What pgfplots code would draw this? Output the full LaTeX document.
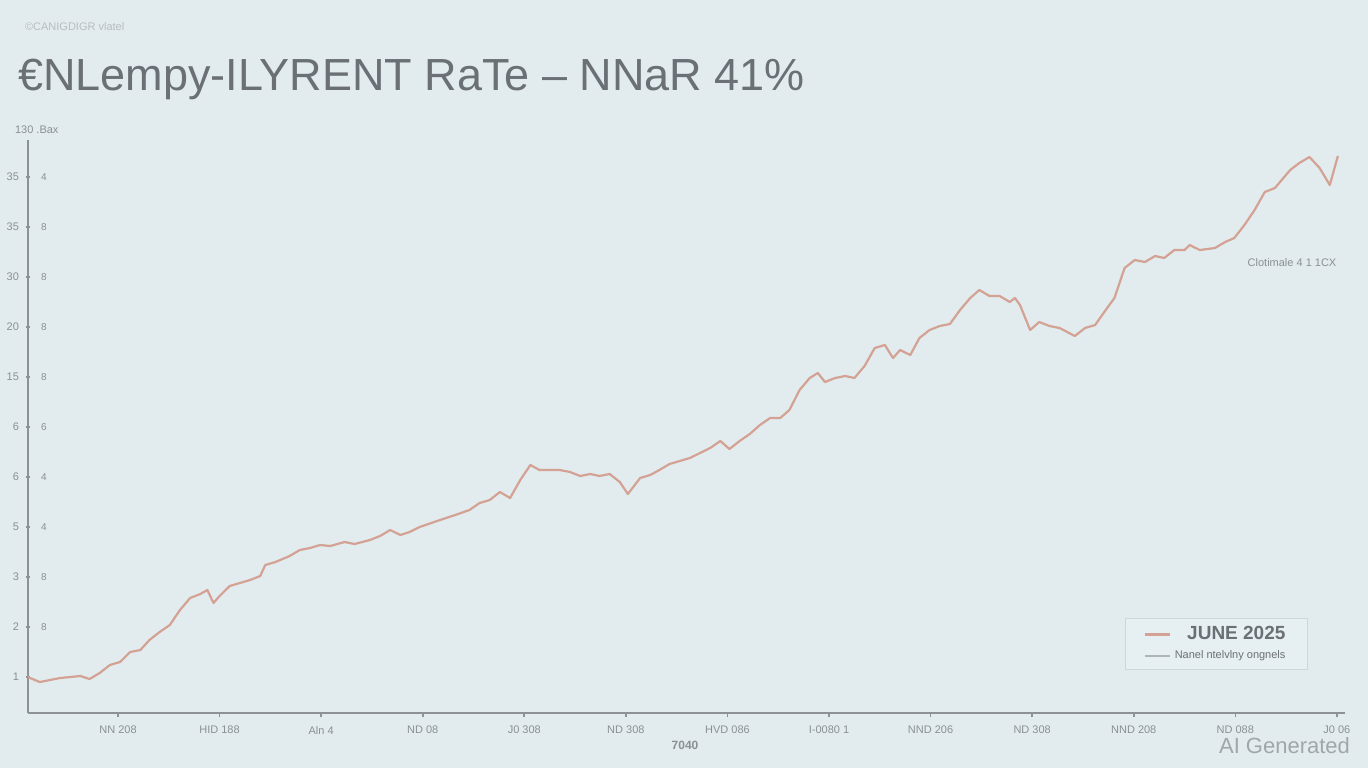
\documentclass[border=0pt]{standalone}
\usepackage{fontspec}
\setmainfont{Liberation Sans}
\usepackage{pgfplots}
\pgfplotsset{compat=1.18}

\definecolor{bg}{HTML}{E2ECEE}
\definecolor{axisgray}{HTML}{8C9297}
\definecolor{tickgray}{HTML}{8A9095}
\definecolor{titlegray}{HTML}{6A7075}
\definecolor{linecol}{HTML}{D4A294}
\definecolor{legbg}{HTML}{E6EFF1}
\definecolor{legborder}{HTML}{CDD6D9}

% 1 px of the reference = 0.5pt; plot box from px (28,140) to (1345,713)
\begin{document}
\begin{tikzpicture}[x=1pt,y=1pt]
\fill[bg] (-14,-27.5) rectangle (670,356.5);
\useasboundingbox (-14,-27.5) rectangle (670,356.5);

\begin{axis}[
    at={(0,0)}, anchor=south west,
    scale only axis,
    width=658.5pt, height=286.5pt,
    xmin=-0.886, xmax=12.08,
    ymin=0.28, ymax=11.74,
    axis x line*=bottom, axis y line*=left,
    axis line style={axisgray, line width=1pt},
    xtick={0,...,12},
    xticklabels={NN 208, HID 188, Aln 4, ND 08, J0 308, ND 308, HVD 086,
                 I-0080 1, NND 206, ND 308, NND 208, ND 088, J0 06},
    ytick={1,...,11},
    yticklabels={1,2,3,5,6,6,15,20,30,35,35},
    tick style={axisgray, line width=0.8pt},
    major tick length=2pt,
    xtick align=outside,
    ytick align=center,
    tick label style={font=\fontsize{5.5}{6}\selectfont, text=tickgray},
    xticklabel style={yshift=-1pt},
    legend style={at={(0.833,0.166)}, anchor=north west,
        fill=legbg, draw=legborder, line width=0.5pt,
        inner xsep=9pt, inner ysep=2pt, row sep=0pt,
        text=titlegray},
    legend cell align=right,
    legend image code/.code={\draw[#1] (0pt,0pt) -- (12.5pt,0pt);},
]
\addplot[linecol, line width=1.1pt, line join=round] coordinates {
(-0.89,1.00) (-0.77,0.90) (-0.57,0.98) (-0.37,1.02) (-0.28,0.96) (-0.18,1.08)
(-0.08,1.24) (0.02,1.30) (0.12,1.50) (0.22,1.54) (0.31,1.74) (0.41,1.90)
(0.51,2.04) (0.61,2.34) (0.71,2.58) (0.81,2.66) (0.88,2.74) (0.94,2.48)
(1.00,2.62) (1.10,2.82) (1.20,2.88) (1.30,2.94) (1.40,3.02) (1.45,3.24)
(1.55,3.30) (1.69,3.42) (1.79,3.54) (1.89,3.58) (1.99,3.64) (2.09,3.62)
(2.23,3.70) (2.33,3.66) (2.48,3.74) (2.58,3.82) (2.68,3.94) (2.78,3.84)
(2.87,3.90) (2.97,4.00) (3.17,4.14) (3.32,4.24) (3.46,4.34) (3.56,4.48)
(3.66,4.54) (3.76,4.70) (3.86,4.58) (3.96,4.94) (4.06,5.24) (4.15,5.14)
(4.35,5.14) (4.45,5.10) (4.55,5.02) (4.65,5.06) (4.74,5.02) (4.84,5.06)
(4.94,4.90) (5.02,4.66) (5.14,4.98) (5.24,5.04) (5.33,5.14) (5.43,5.26)
(5.63,5.38) (5.73,5.48) (5.83,5.58) (5.93,5.72) (6.02,5.56) (6.12,5.72)
(6.22,5.86) (6.32,6.04) (6.42,6.18) (6.52,6.18) (6.61,6.34) (6.71,6.74)
(6.81,6.98) (6.89,7.08) (6.96,6.90) (7.06,6.98) (7.16,7.02) (7.25,6.98)
(7.35,7.22) (7.45,7.58) (7.55,7.64) (7.63,7.38) (7.70,7.54) (7.80,7.44)
(7.89,7.78) (7.99,7.94) (8.09,8.02) (8.19,8.06) (8.29,8.34) (8.39,8.58)
(8.48,8.74) (8.58,8.62) (8.68,8.62) (8.78,8.50) (8.83,8.58) (8.88,8.44)
(8.98,7.94) (9.07,8.10) (9.17,8.02) (9.27,7.98) (9.42,7.82) (9.52,7.98)
(9.62,8.04) (9.71,8.30) (9.81,8.58) (9.91,9.18) (10.01,9.34) (10.11,9.30)
(10.21,9.42) (10.30,9.38) (10.40,9.54) (10.50,9.54) (10.55,9.64) (10.65,9.54)
(10.80,9.58) (10.90,9.70) (10.99,9.78) (11.09,10.04) (11.19,10.34) (11.29,10.70)
(11.39,10.78) (11.44,10.90) (11.54,11.14) (11.63,11.28) (11.73,11.40)
(11.83,11.18) (11.93,10.84) (12.01,11.42)
};
\addlegendentry{\bfseries\fontsize{9.5}{10}\selectfont JUNE 2025}
\addlegendimage{axisgray!70, line width=0.8pt}
\addlegendentry{\fontsize{5.5}{6}\selectfont Nanel ntelvlny ongnels}
\end{axis}

% texts around the plot (canvas: x = (px-28)/2, y = (713-py)/2)
\node[anchor=base west, font=\fontsize{5.5}{6}\selectfont, text=tickgray!60] at (-5,341.5) {©CANIGDIGR vlatel};
\node[anchor=base west, font=\fontsize{22.5}{25}\selectfont, text=titlegray] at (-8.5,311.5) {€NLempy-ILYRENT RaTe – NNaR 41\%};
\node[anchor=west, font=\fontsize{5.5}{6}\selectfont, text=tickgray] at (-10,291.5) {130 .Bax};
\foreach \k/\t in {2/8,3/8,4/4,5/4,6/6,7/8,8/8,9/8,10/8,11/4}
  \node[anchor=west, font=\fontsize{5}{6}\selectfont, text=tickgray] at (3,{18+25*(\k-1)}) {\t};
\node[font=\fontsize{5.5}{6}\selectfont, text=tickgray] at (632,225) {Clotimale 4 1 1CX};
\node[font=\bfseries\fontsize{6}{7}\selectfont, text=tickgray] at (328.5,-16) {7040};
\node[anchor=base east, font=\fontsize{11}{12}\selectfont, text=tickgray!80] at (664.5,-20) {AI Generated};
\end{tikzpicture}
\end{document}
